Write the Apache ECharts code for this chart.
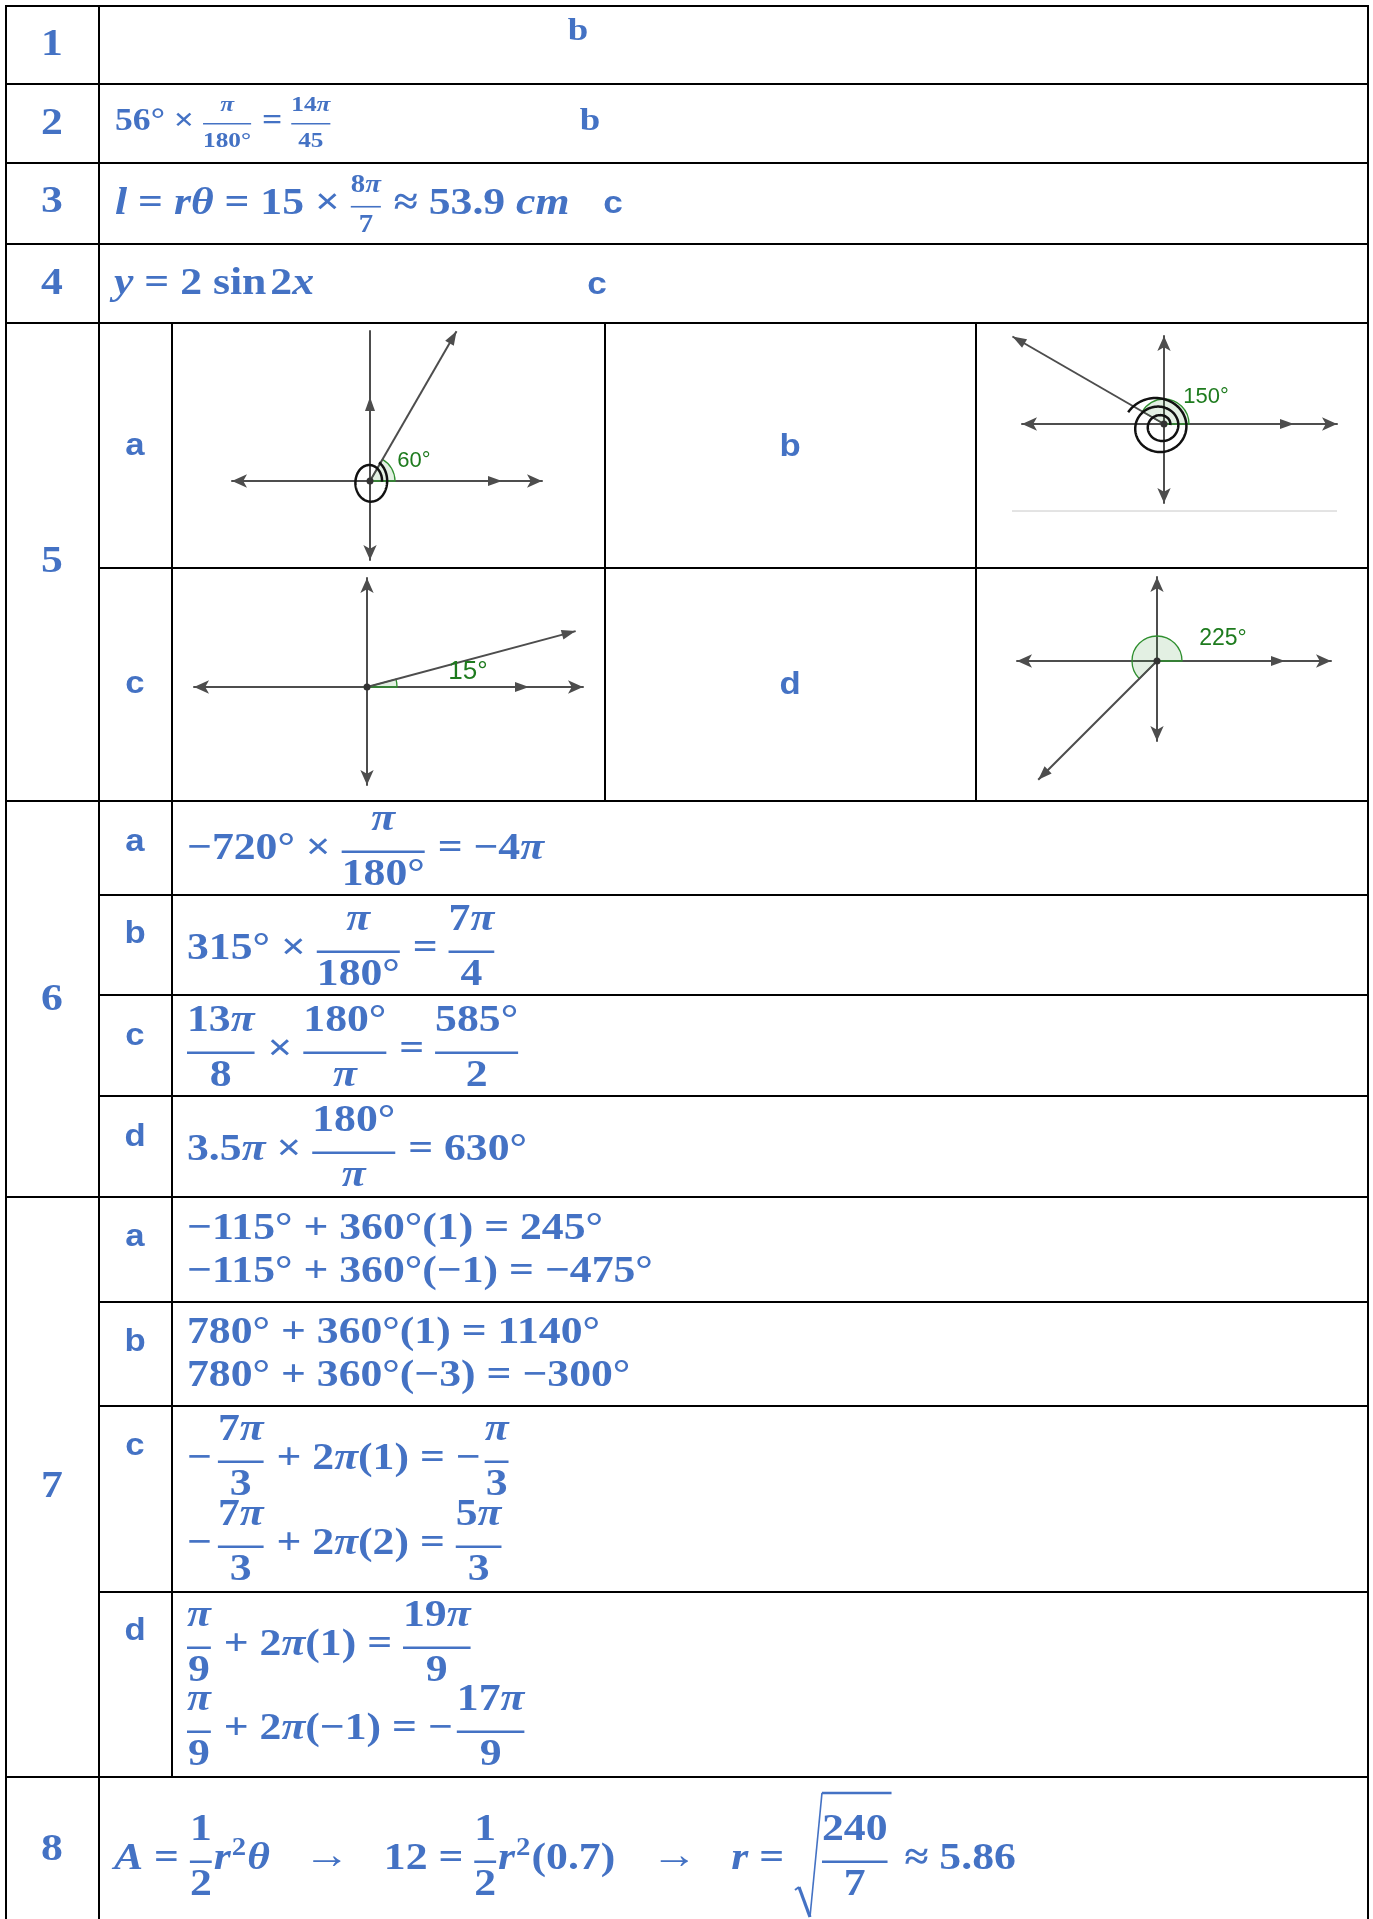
<!DOCTYPE html>
<html><head><meta charset="utf-8">
<script src="https://cdn.jsdelivr.net/npm/echarts@6.0.0/dist/echarts.min.js"></script>
<style>html,body{margin:0;padding:0;background:#fff}#c{width:1373px;height:1919px}</style>
</head><body><div id="c"></div>
<script>
// ---------- token helpers (math notation) ----------
const F = (n, d, fs) => ({f: [n, d], fs});
const SUP = s => ({sup: s});
const SQRT = c => ({sqrt: c});
const G = px => ({g: px});
const T = (t, fs) => ({t, fs});

// ---------- DATA ----------
const rowNumbers = ['1', '2', '3', '4', '5', '6', '7', '8'];
const answerLetters = ['b', 'b', 'c', 'c'];            // rows 1-4
const q5Parts = ['a', 'b', 'c', 'd'];
const q5Angles = [60, 150, 15, 225];
const q5AngleLabels = ['60°', '150°', '15°', '225°'];
const q5SpiralTurns = [1, 2, 0, 0];
const q6Parts = ['a', 'b', 'c', 'd'];
const q7Parts = ['a', 'b', 'c', 'd'];
const q2Expr = ['56° × ', F('π', '180°', 22), ' = ', F('14π', '45', 22)];
const q3Expr = ['l = rθ = 15 × ', F('8π', '7', 25), ' ≈ 53.9 cm'];
const q4Expr = ['y = 2 sin', G(4), '2x'];
const q6Expr = [
  ['−720° × ', F('π', '180°'), ' = −4π'],
  ['315° × ', F('π', '180°'), ' = ', F('7π', '4')],
  [F('13π', '8'), ' × ', F('180°', 'π'), ' = ', F('585°', '2')],
  ['3.5π × ', F('180°', 'π'), ' = 630°']
];
const q7Expr = [
  [['−115° + 360°(1) = 245°'], ['−115° + 360°(−1) = −475°']],
  [['780° + 360°(1) = 1140°'], ['780° + 360°(−3) = −300°']],
  [['−', G(6), F('7π', '3'), ' + 2π(1) = −', G(4), F('π', '3')],
   ['−', G(6), F('7π', '3'), ' + 2π(2) = ', F('5π', '3')]],
  [[F('π', '9'), ' + 2π(1) = ', F('19π', '9')],
   [F('π', '9'), ' + 2π(−1) = −', G(4), F('17π', '9')]]
];
const q8Expr = ['A = ', F('1', '2'), 'r', SUP('2'), 'θ', G(34), T('→', 40), G(34), '12 = ', F('1', '2'),
  'r', SUP('2'), '(0.7)', G(36), T('→', 40), G(34), 'r = ', SQRT([F('240', '7')]), ' ≈ 5.86'];

// ---------- STYLE / LAYOUT ----------
const BLUE = '#4472c4', GREEN = '#1e7b1e', AX = '#4d4d4d';
const SERIF = '"Liberation Serif", "Times New Roman", serif';
const SANS = '"Liberation Sans", Arial, sans-serif';
const MID_SERIF = 0.3374, MID_SANS = 0.3465;
const STRETCH = 1.15;
const cv = document.createElement('canvas').getContext('2d');
function fnt(fs, it, wt, fam) { return (it ? 'italic' : 'normal') + ' ' + (wt || 'bold') + ' ' + fs + 'px ' + (fam || SERIF); }
function mw(t, font) { cv.font = font; return cv.measureText(t).width; }
const ELS = [];
function txt(t, x, base, fs, opt) {
  opt = opt || {};
  const fam = opt.fam || SERIF;
  const font = fnt(fs, opt.it, opt.wt, fam);
  const mid = fam === SANS ? MID_SANS : MID_SERIF;
  const sx = opt.sx === undefined ? STRETCH : opt.sx;
  ELS.push({type: 'text', x: x, y: base - mid * fs, scaleX: sx, silent: true, z: 10,
    style: {text: t, x: 0, y: 0, font: font, fill: opt.color || BLUE, align: opt.align || 'left', verticalAlign: 'middle'}});
}
function seg(x1, y1, x2, y2, w, c) {
  ELS.push({type: 'line', silent: true, z: 10, shape: {x1, y1, x2, y2}, style: {stroke: c || '#000', lineWidth: w}});
}
function runsOf(s) {
  const out = []; const re = /(sin)|([A-Za-z\u03c0\u03b8]+)|([^A-Za-z\u03c0\u03b8]+)/g; let m;
  while ((m = re.exec(s))) out.push({t: m[0], it: !!m[2]});
  return out;
}
function lay(tokens, x, base, fs, draw) {
  if (!Array.isArray(tokens)) tokens = [tokens];
  for (const tk of tokens) {
    if (typeof tk === 'string') {
      for (const r of runsOf(tk)) {
        const w = mw(r.t, fnt(fs, r.it)) * STRETCH;
        if (draw) txt(r.t, x, base, fs, {it: r.it});
        x += w;
      }
    } else if (tk.g !== undefined) {
      x += tk.g;
    } else if (tk.t !== undefined) {
      const w = mw(tk.t, fnt(tk.fs, false, 'normal')) * STRETCH;
      if (draw) txt(tk.t, x, base - 1, tk.fs, {wt: 'normal'});
      x += w;
    } else if (tk.sup) {
      const sfs = Math.round(fs * 0.66);
      x = lay(tk.sup, x + 1, base - 0.4 * fs, sfs, draw) + 1;
    } else if (tk.f) {
      const ffs = tk.fs || fs;
      const nw = lay(tk.f[0], 0, 0, ffs, false), dw = lay(tk.f[1], 0, 0, ffs, false);
      const pad = 0, w = Math.max(nw, dw) + 2 * pad;
      const bar = base - 0.27 * fs;
      if (draw) {
        lay(tk.f[0], x + (w - nw) / 2, bar - 0.5 * ffs, ffs, true);
        lay(tk.f[1], x + (w - dw) / 2, bar + 10 + 0.68 * ffs, ffs, true);
        seg(x, bar, x + w, bar, Math.max(1.5, ffs * 0.065), BLUE);
      }
      x += w + 2;
    } else if (tk.sqrt) {
      const cw = lay(tk.sqrt, 0, 0, fs, false);
      const top = base - 1.45 * fs - 24, bot = base + 45, rw = 27;
      if (draw) {
        seg(x, bot - 27, x + 4, bot - 30, 2, BLUE);
        seg(x + 4, bot - 30, x + 15, bot, 3.2, BLUE);
        seg(x + 15, bot, x + rw, top, 1.6, BLUE);
        seg(x + rw, top, x + rw + cw + 2, top, 2.5, BLUE);
      }
      lay(tk.sqrt, x + rw, base, fs, draw);
      x += rw + cw + 4;
    }
  }
  return x;
}

// ---------- table grid ----------
const L_X = 6, R_X = 1368, C1 = 99, C2 = 172, C3 = 605, C4 = 976, BOT = 1919;
[6, 84, 163, 244, 323, 801, 1197, 1777].forEach(y => seg(L_X - 1, y, R_X + 1, y, 2));
[568, 895, 995, 1096, 1302, 1406, 1592].forEach(y => seg(C1, y, R_X + 1, y, 2));
[L_X, C1, R_X].forEach(x => seg(x, 5, x, BOT, 2));
seg(C2, 323, C2, 1777, 2);
seg(C3, 323, C3, 801, 2);
seg(C4, 323, C4, 801, 2);
seg(1012, 511, 1337, 511, 1, '#c8c8c8');

// ---------- row numbers ----------
const rowNumBase = [58, 137, 215, 297, 575, 1013, 1500, 1863];
rowNumbers.forEach((n, i) => txt(n, 52, rowNumBase[i], 38, {align: 'center'}));

// ---------- rows 1-4 ----------
const ansPos = [[578, 43, SERIF], [590, 133, SERIF], [613, 215, SANS], [597, 296, SANS]];
answerLetters.forEach((a, i) => txt(a, ansPos[i][0], ansPos[i][1], 32, {align: 'center', fam: ansPos[i][2], sx: ansPos[i][2] === SANS ? 1.1 : STRETCH}));
lay(q2Expr, 115, 132, 31, true);
lay(q3Expr, 115, 217, 38, true);
lay(q4Expr, 114, 297, 38, true);

// ---------- sub labels ----------
const LBL = (t, x, b) => txt(t, x, b, 31, {align: 'center', fam: SANS, sx: 1.12});
const q5LabelPos = [[135, 457], [790, 458], [135, 695], [790, 696]];
q5Parts.forEach((p, i) => LBL(p, q5LabelPos[i][0], q5LabelPos[i][1]));
const q6Base = [853, 945, 1047, 1148];
q6Parts.forEach((p, i) => LBL(p, 135, q6Base[i]));
const q7Base = [1248, 1353, 1457, 1642];
q7Parts.forEach((p, i) => LBL(p, 135, q7Base[i]));

// ---------- math rows 6-8 ----------
const q6MathBase = [862, 962, 1063, 1163];
q6Expr.forEach((e, i) => lay(e, 187, q6MathBase[i], 38, true));
const q7MathBase = [[1242, 1285], [1346, 1389], [1472, 1557], [1658, 1742]];
q7Expr.forEach((lines, i) => lines.forEach((e, j) => lay(e, 187, q7MathBase[i][j], 38, true)));
lay(q8Expr, 114, 1872, 38, true);

// ---------- angle diagrams (cartesian grids) ----------
const DIAG = [
  {ox: 370, oy: 481, L: 138, R: 172, U: 150, D: 79, ray: 173, init: 132, up: 84, ySym: ['arrow', 'none'], arcR: 25, lab: [44, -20], labFs: 22, sp: [12, 18], spY: 1.25, drift: [0, 0.05]},
  {ox: 1164, oy: 424, L: 142, R: 173, U: 88, D: 79, ray: 175, init: 130, up: 0, ySym: ['arrow', 'arrow'], arcR: 25, lab: [42, -27], labFs: 22, sp: [8, 33], spY: 0.95, drift: [-0.22, 0.12]},
  {ox: 367, oy: 687, L: 173, R: 216, U: 109, D: 98, ray: 216, init: 162, up: 0, ySym: ['arrow', 'arrow'], arcR: 30, lab: [101, -15], labFs: 26, sp: [0, 0], spY: 1, drift: [0, 0]},
  {ox: 1157, oy: 661, L: 140, R: 174, U: 84, D: 80, ray: 168, init: 128, up: 0, ySym: ['arrow', 'arrow'], arcR: 25, lab: [66, -22], labFs: 23, sp: [0, 0], spY: 1, drift: [0, 0]}
];
function head(from, to, len, wid, color) {
  const dx = to[0] - from[0], dy = to[1] - from[1], Ln = Math.hypot(dx, dy);
  const ux = dx / Ln, uy = dy / Ln, bx = to[0] - ux * len, by = to[1] - uy * len;
  return {type: 'polygon', shape: {points: [to, [bx - uy * wid / 2, by + ux * wid / 2], [bx + uy * wid / 2, by - ux * wid / 2]]}, style: {fill: color}};
}
function diagramSeries(i) {
  const cfg = DIAG[i];
  return {
    type: 'custom', xAxisIndex: i, yAxisIndex: i, clip: false, silent: true, z: 5,
    data: [[q5Angles[i], q5SpiralTurns[i]]],
    renderItem: function (params, api) {
      const deg = api.value(0), turns = api.value(1), th = deg * Math.PI / 180;
      const o = api.coord([0, 0]);
      const end = api.coord([cfg.ray * Math.cos(th), cfg.ray * Math.sin(th)]);
      const init = api.coord([cfg.init, 0]);
      const ch = [];
      ch.push({type: 'sector', shape: {cx: o[0], cy: o[1], r: cfg.arcR, r0: 0, startAngle: 0, endAngle: -th, clockwise: false},
        style: {fill: 'rgba(60,150,60,0.14)', stroke: '#2f8f2f', lineWidth: 1.3}});
      ch.push({type: 'line', shape: {x1: o[0], y1: o[1], x2: end[0], y2: end[1]}, style: {stroke: AX, lineWidth: 2}});
      ch.push(head(o, end, 14, 10, AX));
      ch.push(head(o, init, 14, 10, AX));
      if (cfg.up) ch.push(head(o, api.coord([0, cfg.up]), 14, 10, AX));
      if (turns > 0) {
        const phiMax = turns * 2 * Math.PI + th, pts = [], N = 260;
        for (let k = 0; k <= N; k++) {
          const p = phiMax * k / N, r = cfg.sp[0] + (cfg.sp[1] - cfg.sp[0]) * k / N;
          pts.push([o[0] + r * Math.cos(p) + cfg.drift[0] * r, o[1] - r * Math.sin(p) * cfg.spY + cfg.drift[1] * r]);
        }
        ch.push({type: 'polyline', shape: {points: pts}, style: {stroke: '#111', lineWidth: 2.5, fill: null}});
      }
      ch.push({type: 'circle', shape: {cx: o[0], cy: o[1], r: 3.5}, style: {fill: '#333'}});
      ch.push({type: 'text', x: o[0] + cfg.lab[0], y: o[1] + cfg.lab[1],
        style: {text: q5AngleLabels[i], fill: GREEN, fontSize: cfg.labFs, fontFamily: SANS, align: 'center', verticalAlign: 'middle'}});
      return {type: 'group', children: ch};
    }
  };
}
const axisCommon = {axisTick: {show: false}, axisLabel: {show: false}, splitLine: {show: false}};
const option = {
  animation: false,
  backgroundColor: '#fff',
  grid: DIAG.map(d => ({left: d.ox - d.L, top: d.oy - d.U, width: d.L + d.R, height: d.U + d.D, show: false})),
  xAxis: DIAG.map((d, i) => Object.assign({type: 'value', gridIndex: i, min: -d.L, max: d.R,
    axisLine: {show: true, onZero: true, symbol: ['arrow', 'arrow'], symbolSize: [10, 15], lineStyle: {color: AX, width: 2}}}, axisCommon)),
  yAxis: DIAG.map((d, i) => Object.assign({type: 'value', gridIndex: i, min: -d.D, max: d.U,
    axisLine: {show: true, onZero: true, symbol: d.ySym, symbolSize: [10, 15], lineStyle: {color: AX, width: 2}}}, axisCommon)),
  series: DIAG.map((d, i) => diagramSeries(i)),
  graphic: {elements: ELS}
};
const chart = echarts.init(document.getElementById('c'), null, {renderer: 'canvas', width: 1373, height: 1919});
chart.setOption(option);
</script></body></html>
